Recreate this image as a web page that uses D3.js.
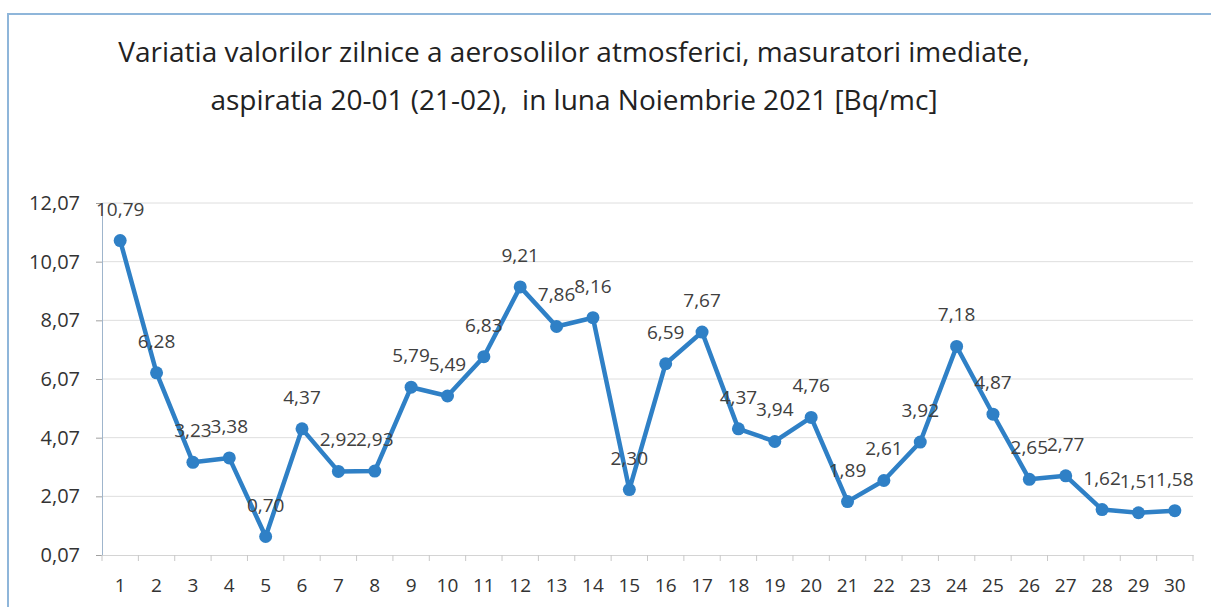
<!DOCTYPE html>
<html>
<head>
<meta charset="utf-8">
<script src="https://cdn.jsdelivr.net/npm/d3@7"></script>
<style>
  html, body { margin: 0; padding: 0; background: #fff; }
  svg { display: block; font-family: "Open Sans", "Noto Sans", sans-serif; }
</style>
</head>
<body>
<svg id="chart" width="1211" height="607"></svg>
<script>
// ─── Data ────────────────────────────────────────────────────────────
const days = d3.range(1, 31).map(String);
const values = [10.79, 6.28, 3.23, 3.38, 0.70, 4.37, 2.92, 2.93, 5.79, 5.49,
                6.83, 9.21, 7.86, 8.16, 2.30, 6.59, 7.67, 4.37, 3.94, 4.76,
                1.89, 2.61, 3.92, 7.18, 4.87, 2.65, 2.77, 1.62, 1.51, 1.58];
const yTicks = [0.07, 2.07, 4.07, 6.07, 8.07, 10.07, 12.07];
const titleLines = [
  'Variatia valorilor zilnice a aerosolilor atmosferici, masuratori imediate,',
  'aspiratia 20-01 (21-02),  in luna Noiembrie 2021 [Bq/mc]'
];

const LINE_COLOR = '#2f80c6';
const comma = v => d3.format('.2f')(v).replace('.', ',');

const svg = d3.select('#chart');
const W = 1211, H = 607;
const margin = { top: 203, right: 18, bottom: 52, left: 102 };
const iw = W - margin.left - margin.right;
const ih = H - margin.top - margin.bottom;

// chart frame (top + left edge of the scanned box)
svg.append('path')
  .attr('d', `M8,${H} L8,14 L${W},14`)
  .attr('fill', 'none').attr('stroke', '#8fb6da').attr('stroke-width', 2);

// title
svg.selectAll('text.title').data(titleLines).join('text')
  .attr('class', 'title')
  .attr('x', 574).attr('y', (d, i) => i ? 110 : 62)
  .attr('text-anchor', 'middle').attr('font-size', 28).attr('fill', '#222')
  .style('white-space', 'pre')
  .text(d => d);

const g = svg.append('g').attr('transform', `translate(${margin.left},${margin.top})`);

const x = d3.scaleBand().domain(days).range([0, iw]);
const y = d3.scaleLinear().domain([0.07, 12.07]).range([ih, 0]);

// gridlines
g.append('g').selectAll('line').data(yTicks.slice(1)).join('line')
  .attr('x1', 0).attr('x2', iw)
  .attr('y1', d => y(d)).attr('y2', d => y(d))
  .attr('stroke', '#dedede').attr('stroke-width', 1);

// y axis
const yAxis = g.append('g')
  .call(d3.axisLeft(y).tickValues(yTicks).tickFormat(comma).tickSize(6).tickPadding(16));
yAxis.select('.domain').attr('stroke', '#9fb5cc');
yAxis.selectAll('.tick line').attr('stroke', '#a0a0a0');
yAxis.selectAll('text').attr('font-size', 20).attr('fill', '#333')
  .attr('font-family', '"Open Sans", sans-serif');

// x axis
const xAxis = g.append('g').attr('transform', `translate(0,${ih})`)
  .call(d3.axisBottom(x).tickSize(0).tickPadding(24));
xAxis.select('.domain').attr('stroke', '#d4d4d4');
xAxis.selectAll('text').attr('font-size', 19).attr('fill', '#333')
  .attr('font-family', '"Open Sans", sans-serif');
// category boundary ticks
g.append('g').selectAll('line').data(days.concat('end')).join('line')
  .attr('x1', (d, i) => i * x.step()).attr('x2', (d, i) => i * x.step())
  .attr('y1', ih).attr('y2', ih + 6)
  .attr('stroke', '#c8c8c8');

// line
const cx = d => x(d) + x.bandwidth() / 2;
const line = d3.line().x((d, i) => cx(days[i])).y(d => y(d));
g.append('path').datum(values)
  .attr('d', line).attr('fill', 'none')
  .attr('stroke', LINE_COLOR).attr('stroke-width', 4.5)
  .attr('stroke-linejoin', 'round');

g.selectAll('circle.pt').data(values).join('circle')
  .attr('class', 'pt')
  .attr('cx', (d, i) => cx(days[i])).attr('cy', d => y(d))
  .attr('r', 6.5).attr('fill', LINE_COLOR);

// data labels
g.selectAll('text.lbl').data(values).join('text')
  .attr('class', 'lbl')
  .attr('x', (d, i) => cx(days[i])).attr('y', d => y(d) - 25)
  .attr('text-anchor', 'middle').attr('font-size', 19).attr('fill', '#404040')
  .text(comma);
</script>
</body>
</html>
